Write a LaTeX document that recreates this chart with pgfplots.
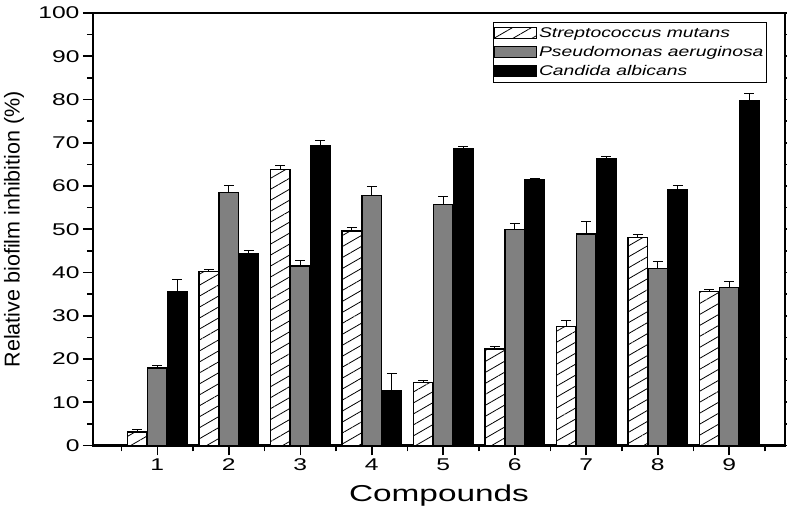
\documentclass[border=0pt]{standalone}
\usepackage{pgfplots}
\pgfplotsset{compat=1.18}
\usepackage{pgfplotstable}
\usepackage{fontspec}
\setmainfont{Liberation Sans}
\usetikzlibrary{patterns.meta}

\pgfplotstableread{
x  SM   SMe  PA   PAe  CA   CAe
1  3.1  0.6  17.9 0.7  35.5 2.8
2  40.2 0.6  58.5 1.5  44.4 0.8
3  63.9 0.8  41.5 1.3  69.3 1.3
4  49.6 0.8  57.8 2.0  12.8 3.9
5  14.5 0.6  55.8 1.7  68.6 0.6
6  22.3 0.6  50.0 1.4  61.4 0.4
7  27.5 1.3  48.9 3.0  66.4 0.4
8  48.1 0.6  41.0 1.5  59.1 1.1
9  35.6 0.4  36.6 1.4  79.8 1.5
}\datatable

\newcommand{\wide}[1]{\scalebox{1.45}[1]{#1}}
\newcommand{\lwide}[1]{\scalebox{1.38}[1]{#1}}

\begin{document}
\begin{tikzpicture}
\useasboundingbox (-93pt,-64.5pt) rectangle (694pt,445.5pt);
\begin{axis}[
  name=ax,
  at={(0pt,0pt)}, anchor=south west,
  scale only axis,
  width=692pt, height=432.5pt,
  xmin=0.1, xmax=9.78,
  ymin=0, ymax=100,
  ybar, bar width=19.5pt,
  xtick={1,...,9},
  minor xtick={0.5,1.5,...,9.5},
  ytick={0,10,...,100},
  minor ytick={5,15,...,95},
  xtick pos=left,
  ytick pos=both,
  yticklabel pos=left,
  tick align=outside,
  major tick length=10pt,
  minor tick length=6pt,
  every tick/.style={black, line width=1.6pt},
  axis line style={line width=2.2pt},
  /pgf/number format/assume math mode=true,
  tick label style={font=\fontsize{17}{17}\selectfont},
  xticklabel={\wide{\pgfmathprintnumber{\tick}}},
  yticklabel={\wide{\pgfmathprintnumber{\tick}}},
  xlabel={\scalebox{1.45}[1]{Compounds}},
  xlabel style={font=\fontsize{23}{23}\selectfont, at={(axis description cs:0.5,-0.1306)}, anchor=base},
  ylabel={Relative biofilm inhibition (\%)},
  ylabel style={font=\fontsize{21.5}{21.5}\selectfont, at={(axis description cs:-0.1142,0.5)}, anchor=center},
  legend cell align=left,
  legend style={at={(0.974,0.979)}, anchor=north east, draw=black, line width=1pt,
    font=\itshape\fontsize{14}{14}\selectfont, row sep=3.5pt,
    inner xsep=1pt, inner ysep=3pt},
  legend image code/.code={\draw[#1, line width=1pt] (0pt,-5pt) rectangle (42pt,6pt);},
  error bars/y dir=plus,
  error bars/y explicit,
  error bars/error bar style={black, line width=1pt},
  error bars/error mark options={rotate=90, black, mark size=5pt, line width=1pt},
]
\addplot[bar shift=-20pt, draw=black, line width=1.2pt, fill=white,
  postaction={pattern={Lines[angle=30,distance=9.5pt,line width=0.8pt]}, pattern color=black}]
  table[x=x, y=SM, y error=SMe] {\datatable};
\addlegendentry{\lwide{Streptococcus mutans}}
\addplot[bar shift=0pt, draw=black, line width=1.2pt, fill=black!50]
  table[x=x, y=PA, y error=PAe] {\datatable};
\addlegendentry{\lwide{Pseudomonas aeruginosa}}
\addplot[bar shift=20pt, draw=black, line width=1.2pt, fill=black]
  table[x=x, y=CA, y error=CAe] {\datatable};
\addlegendentry{\lwide{Candida albicans}}
\end{axis}
\end{tikzpicture}
\end{document}
